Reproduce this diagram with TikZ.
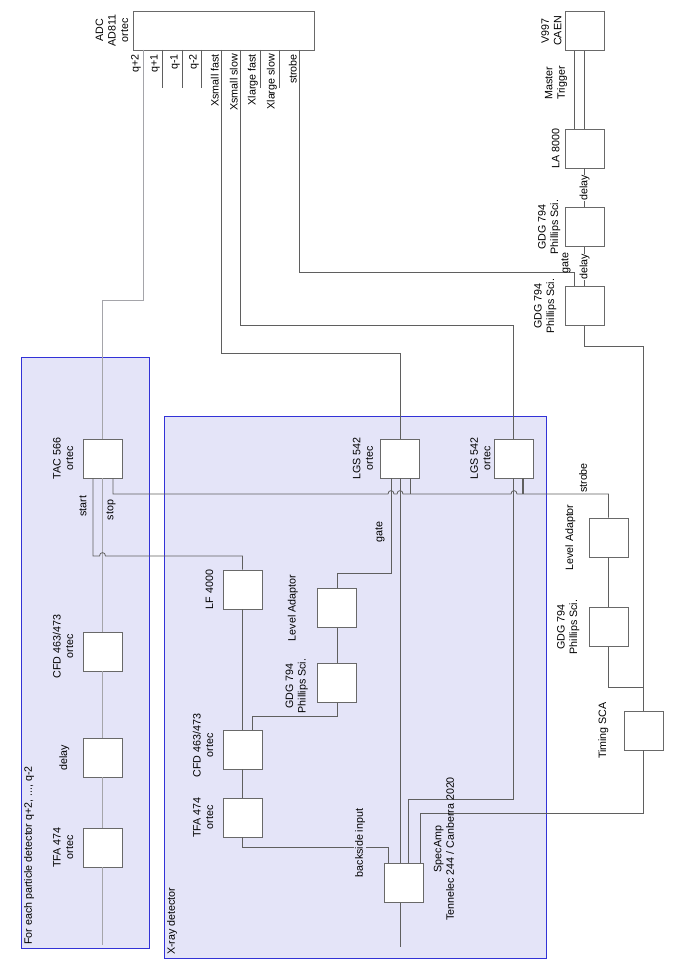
\documentclass[tikz,border=0pt]{standalone}
\usepackage{fontspec}
\setmainfont{Liberation Sans}
\definecolor{grpfill}{RGB}{228,228,248}
\definecolor{grpline}{RGB}{50,50,215}
\definecolor{wirec}{RGB}{95,95,95}
\definecolor{pwirec}{RGB}{165,165,170}
\definecolor{devline}{RGB}{105,105,105}
\begin{document}
\begin{tikzpicture}[x=1pt,y=-1pt,
  every node/.style={font=\fontsize{10.7}{12.5}\selectfont},
  dev/.style={draw=devline, line width=0.9pt, fill=white, minimum width=39pt, minimum height=39pt, inner sep=0pt},
  lbl/.style={rotate=90, align=center, inner sep=1pt},
  wire/.style={draw=wirec, line width=0.8pt},
  pwire/.style={draw=pwirec, line width=1pt},
  grp/.style={fill=grpfill, draw=grpline, line width=0.9pt}]
\useasboundingbox (0,0) rectangle (682,968);
% groups
\path[grp] (21,357) rectangle (149,948);
\path[grp] (164,416) rectangle (546,958);
\node[lbl, anchor=north west] (ptitle) at (23,946) {For each particle detector q+2, ..., q-2};
\node[lbl, anchor=north west] (xtitle) at (166,956) {X-ray detector};
% devices
\node[dev, minimum width=181pt] (adc) at (223.5,30.5) {};
\node[dev] (v997) at (584.5,31) {};
\node[dev] (la8) at (584.5,148.5) {};
\node[dev] (gdga) at (584.5,227) {};
\node[dev] (gdgb) at (584.5,306) {};
\node[dev] (tac) at (102.5,458.5) {};
\node[dev] (pcfd) at (102.5,651.5) {};
\node[dev] (pdel) at (102.5,757.5) {};
\node[dev] (ptfa) at (102.5,847.5) {};
\node[dev] (lf) at (242.5,589.5) {};
\node[dev] (xcfd) at (242.5,749.5) {};
\node[dev] (xtfa) at (242.5,817.5) {};
\node[dev] (xgdg) at (337,683) {};
\node[dev] (xla) at (337,608) {};
\node[dev] (lgsl) at (400,458.5) {};
\node[dev] (lgsr) at (513.5,458.5) {};
\node[dev] (spec) at (403.5,883) {};
\node[dev] (lar) at (608.5,537.5) {};
\node[dev] (gdgr) at (608.5,627) {};
\node[dev] (sca) at (643.5,730.5) {};
% ADC ports
\foreach \x/\n in {143/qpp,162/qp,182/qm,201/qmm,221/xsf,240/xss,260/xlf,279/xls,299/strb}
  \coordinate (adc-\n) at (\x,50);
\foreach \n in {qp,qm,qmm,xlf,xls}
  \draw[wire] (adc-\n) -- ++(0,38);
\foreach \n/\t in {qpp/q+2,qp/q+1,qm/q-1,qmm/q-2,xsf/Xsmall fast,xss/Xsmall slow,xlf/Xlarge fast,xls/Xlarge slow,strb/strobe}
  \node[lbl, anchor=south east] at ([xshift=-1pt,yshift=-3pt]adc-\n) {\t};
\node[lbl, anchor=south] (adclbl) at ([xshift=-3pt]adc.west) {ADC\\AD811\\ortec};
% ADC connections
\coordinate (c-strb) at (299,272);
\draw[wire] (adc-strb) -- (c-strb) -| ([xshift=-10.5pt]gdgb.north);
\coordinate (c-xss) at (240,325);
\draw[wire] (adc-xss) -- (c-xss) -| (lgsr.north);
\coordinate (c-xsf) at (221,353);
\draw[wire] (adc-xsf) -- (c-xsf) -| (lgsl.north);
\coordinate (c-q) at (143,300);
\draw[pwire] (adc-qpp) -- (c-q) -| (tac.north);
% master trigger chain
\draw[wire] ([xshift=-10.5pt]la8.north) -- ([xshift=-10.5pt]v997.south);
\draw[wire] (la8.north) -- (v997.south);
\node[lbl, anchor=south] at ([xshift=-2pt]v997.west) {V997\\CAEN};
\node[lbl] (mt) at (556,83) {Master\\Trigger};
\node[lbl, anchor=south] at ([xshift=-4pt]la8.west) {LA 8000};
\draw[wire] (gdga.north) -- (la8.south);
\node[lbl, fill=white, inner sep=0.5pt] at (584.5,188) {delay};
\node[lbl, anchor=south] at ([xshift=-3pt]gdga.west) {GDG 794\\Phillips Sci.};
\draw[wire] (gdgb.north) -- (gdga.south);
\node[lbl, fill=white, inner sep=0.5pt] at (584.5,267) {delay};
\node[lbl] at (566,263) {gate};
\node[lbl, anchor=south] at ([xshift=-7pt]gdgb.west) {GDG 794\\Phillips Sci.};
% particle chain
\draw[pwire] (tac.south) -- (pcfd.north);
\draw[pwire] (pcfd.south) -- (pdel.north);
\draw[pwire] (pdel.south) -- (ptfa.north);
\coordinate (pend) at (102.5,945);
\draw[pwire] (ptfa.south) -- (pend);
\node[lbl, anchor=south] at ([xshift=-8pt]tac.west) {TAC 566\\ortec};
\node[lbl, anchor=south] at ([xshift=-8pt,yshift=5pt]pcfd.west) {CFD 463/473\\ortec};
\node[lbl, anchor=south] at ([xshift=-12pt]pdel.west) {delay};
\node[lbl, anchor=south] at ([xshift=-8pt]ptfa.west) {TFA 474\\ortec};
% start / stop
\coordinate (c-st1) at (93,556);
\draw[wire] ([xshift=-9.5pt]tac.south) -- (c-st1) -- (99.5,556) .. controls (99.5,551.5) and (105.5,551.5) .. (105.5,556) -- (242.5,556) -- (lf.north);
\node[lbl] at (83,506) {start};
\coordinate (c-sp1) at (113,494);
\coordinate (c-sp2) at (608.5,494);
\draw[wire] ([xshift=10.5pt]tac.south) -- (c-sp1) -- (388,494) .. controls (388,489.5) and (394,489.5) .. (394,494) -- (397,494) .. controls (397,489.5) and (403,489.5) .. (403,494) -- (511,494) .. controls (511,489.5) and (517,489.5) .. (517,494) -- (c-sp2) -- (lar.north);
\node[lbl] at (111,510) {stop};
\node[lbl] at (583,478) {strobe};
\draw[wire] ([xshift=10pt]lgsl.south) -- (410,494);
\draw[wire, line width=1.3pt] ([xshift=9.5pt]lgsr.south) -- (523,494);
% X-ray chain
\draw[wire] (lf.south) -- (xcfd.north);
\draw[wire] (xtfa.north) -- (xcfd.south);
\coordinate (c-bs) at (242.5,847);
\draw[wire] (xtfa.south) -- (c-bs) -| ([xshift=-15.5pt]spec.north);
\node[lbl, fill=grpfill, inner sep=1pt] at (360,843) {backside input};
\coordinate (c-cg) at (252,716);
\draw[wire] ([xshift=9.5pt]xcfd.north) -- (c-cg) -| (xgdg.south);
\draw[wire] (xgdg.north) -- (xla.south);
\coordinate (c-gt) at (337,573);
\draw[wire] (xla.north) -- (c-gt) -| ([xshift=-9pt]lgsl.south);
\node[lbl] at (380,532) {gate};
\draw[wire] (lgsl.south) -- (lgsl.south |- spec.north);
\coordinate (xend) at (400,947);
\draw[wire] (spec.south -| lgsl.south) -- (xend);
\coordinate (c-sl) at (408,799);
\draw[wire] ([xshift=4.5pt]spec.north) -- (c-sl) -| (lgsr.south);
\coordinate (c-ss) at (420,813);
\draw[wire] ([xshift=16.5pt]spec.north) -- (c-ss) -| (sca.south);
\node[lbl, anchor=south] at ([xshift=-8pt]lf.west) {LF 4000};
\node[lbl, anchor=south] at ([xshift=-8pt,yshift=4pt]xcfd.west) {CFD 463/473\\ortec};
\node[lbl, anchor=south] at ([xshift=-8pt]xtfa.west) {TFA 474\\ortec};
\node[lbl, anchor=south] at ([xshift=-8pt,yshift=-3pt]xgdg.west) {GDG 794\\Phillips Sci.};
\node[lbl, anchor=south] at ([xshift=-18pt]xla.west) {Level Adaptor};
\node[lbl, anchor=south] at ([xshift=-6pt]lgsl.west) {LGS 542\\ortec};
\node[lbl, anchor=south] at ([xshift=-2pt]lgsr.west) {LGS 542\\ortec};
\node[lbl] at (444,849) {SpecAmp\\Tennelec 244 / Canberra 2020};
% right column
\draw[wire] (gdgr.north) -- (lar.south);
\coordinate (c-r1) at (608.5,687);
\coordinate (c-r2) at (643.5,687);
\coordinate (c-r3) at (643.5,346);
\draw[wire] (gdgr.south) -- (c-r1) -- (c-r2);
\draw[wire] (sca.north) -- (c-r2) -- (c-r3) -| (gdgb.south);
\node[lbl, anchor=south] at ([xshift=-12pt]lar.west) {Level Adaptor};
\node[lbl, anchor=south] at ([xshift=-8pt]gdgr.west) {GDG 794\\Phillips Sci.};
\node[lbl, anchor=south] at ([xshift=-14pt]sca.west) {Timing SCA};
\end{tikzpicture}
\end{document}
